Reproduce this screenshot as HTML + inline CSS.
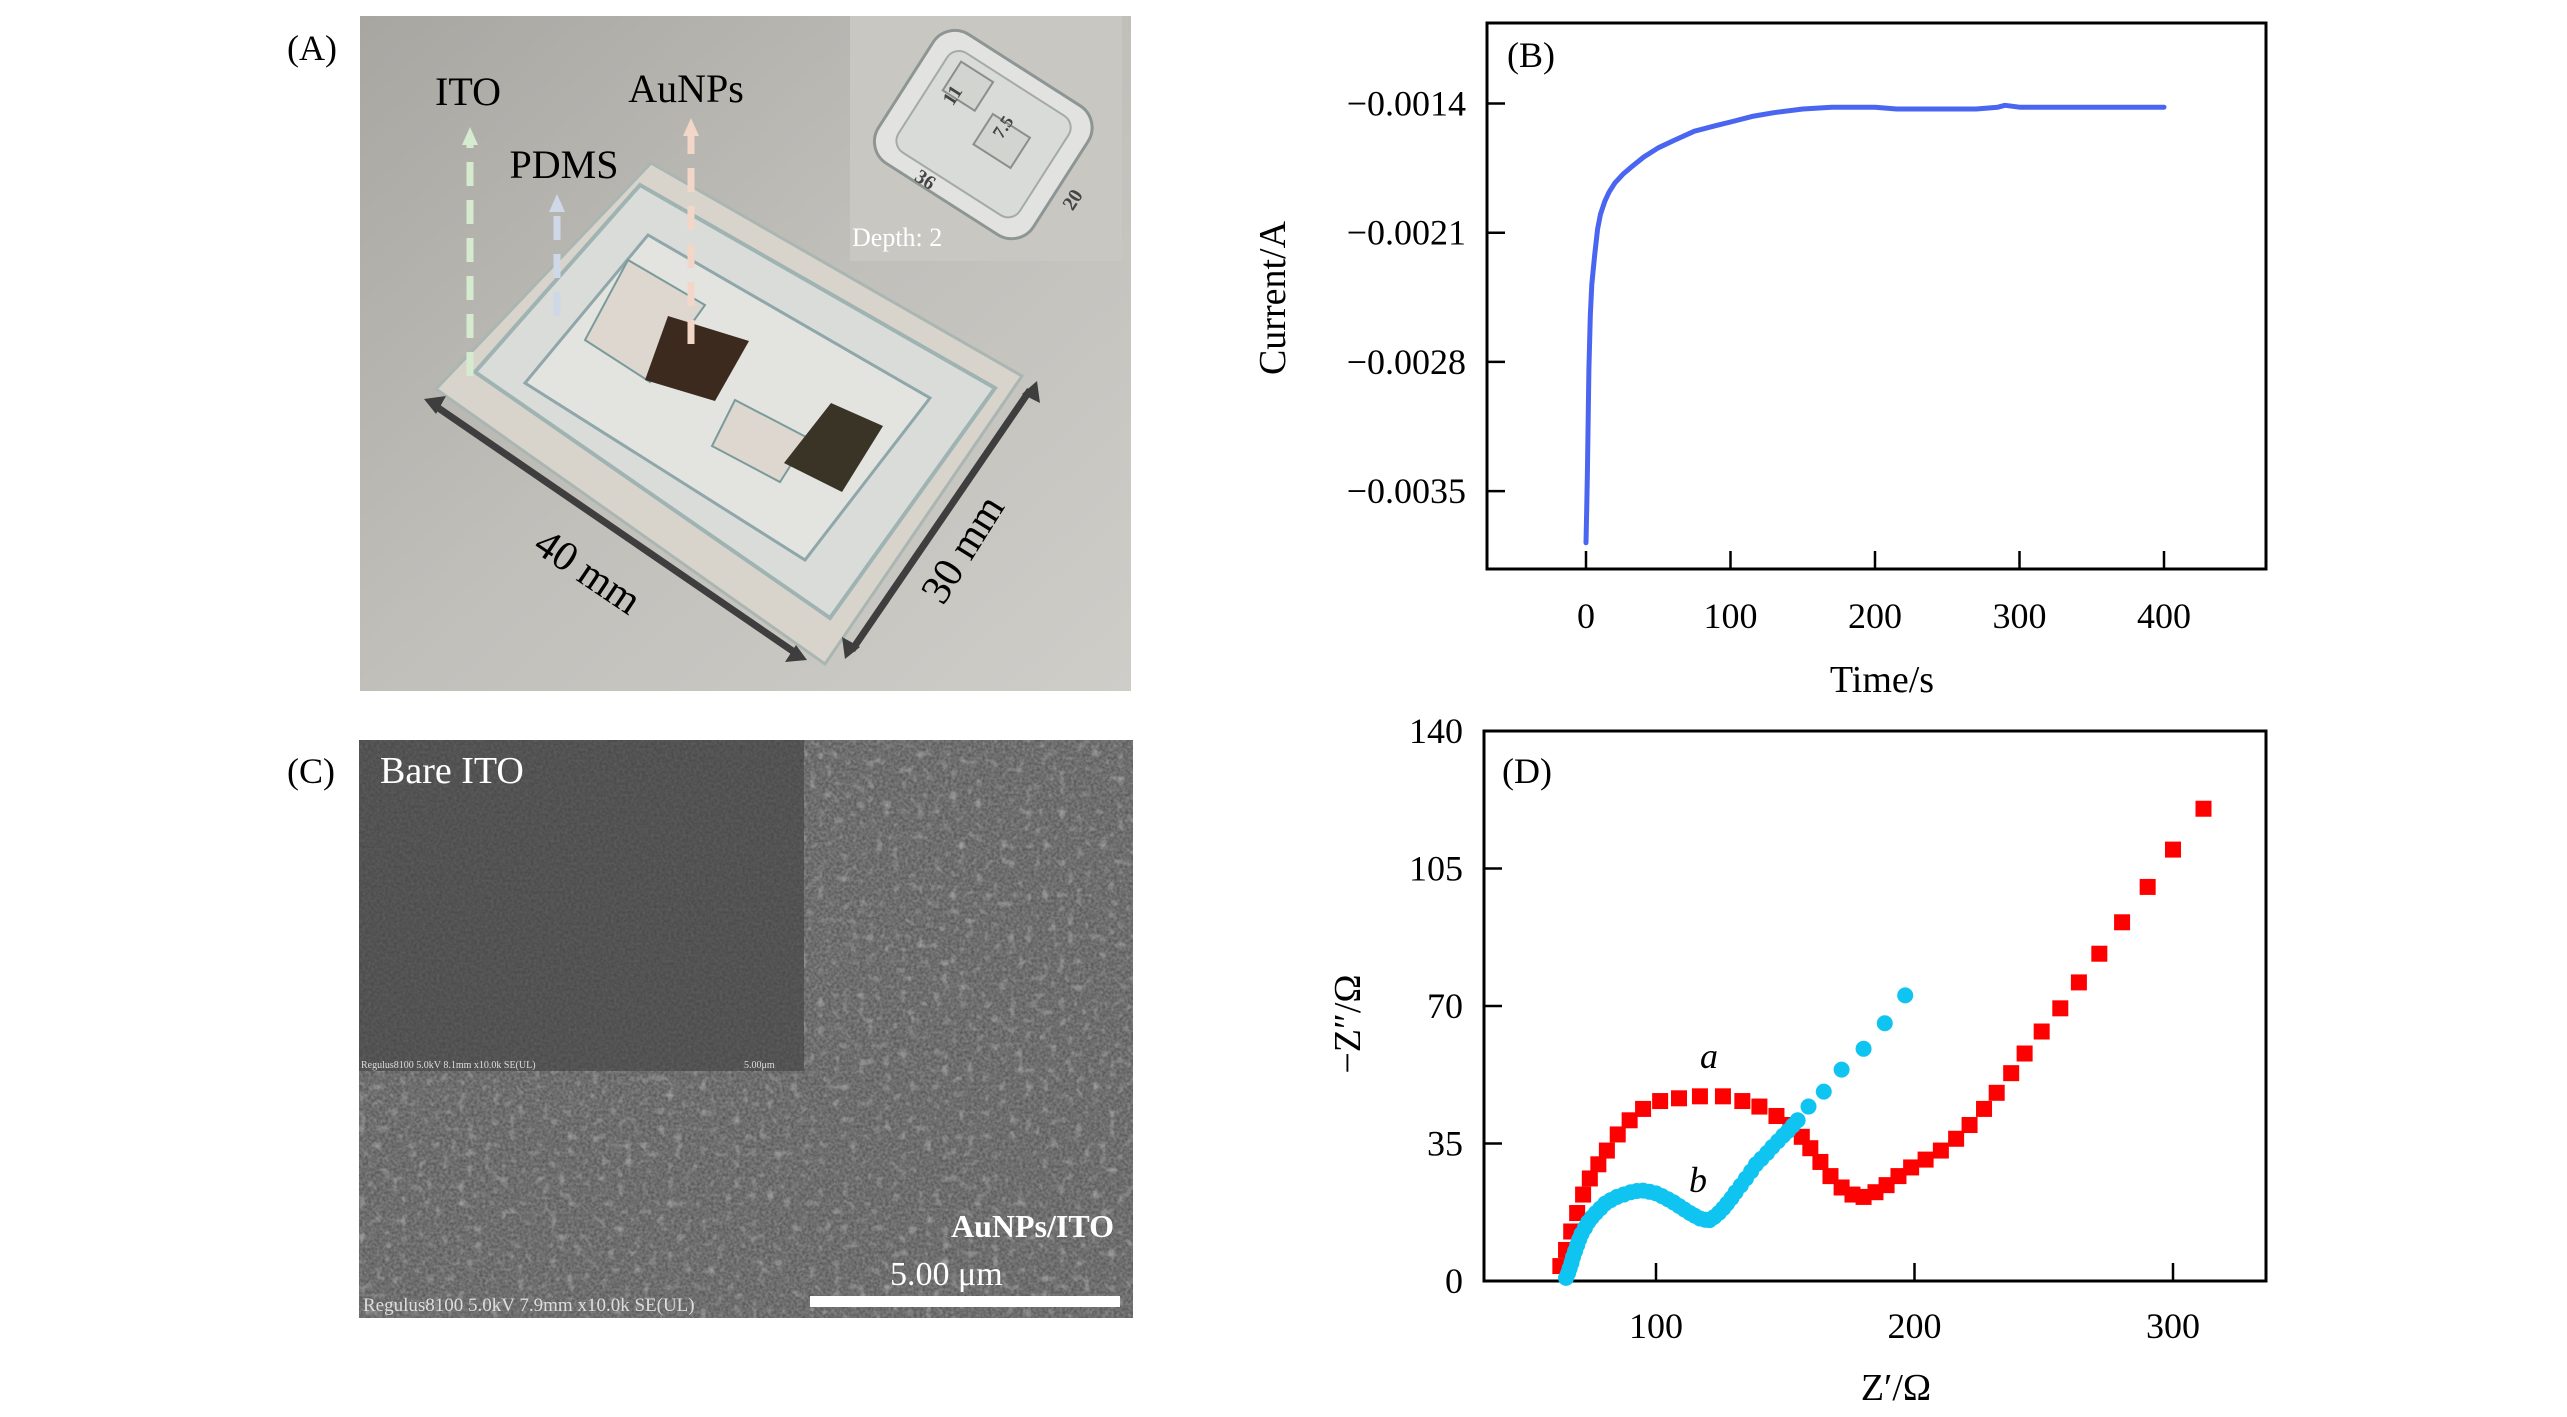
<!DOCTYPE html>
<html><head><meta charset="utf-8"><style>
html,body{margin:0;padding:0;background:#fff}
svg{display:block}
text{font-family:"Liberation Serif",serif}
</style></head><body>
<svg id="fig" width="2567" height="1417" viewBox="0 0 2567 1417" xmlns="http://www.w3.org/2000/svg">
<defs>
<linearGradient id="bgA" x1="0" y1="0" x2="1" y2="1">
<stop offset="0" stop-color="#a8a6a1"/><stop offset="0.5" stop-color="#c1bfba"/><stop offset="1" stop-color="#cfcdc8"/></linearGradient>
<filter id="noise" x="0" y="0" width="100%" height="100%">
<feTurbulence type="fractalNoise" baseFrequency="0.35" numOctaves="2" seed="3"/>
<feColorMatrix type="matrix" values="0 0 0 0 0.5 0 0 0 0 0.5 0 0 0 0 0.5 0 0 0 1.2 -0.2"/></filter>
<filter id="blobs" x="0" y="0" width="100%" height="100%">
<feTurbulence type="fractalNoise" baseFrequency="0.12" numOctaves="1" seed="9"/>
<feColorMatrix type="matrix" values="0 0 0 0 0.8 0 0 0 0 0.8 0 0 0 0 0.8 0 0 0 3 -1.7"/></filter>
</defs>

<g>
<text x="287" y="60" font-size="36">(A)</text>
<rect x="360" y="16" width="771" height="675" fill="url(#bgA)"/>
<polygon points="651,163 1022,376 825,664 436,389" fill="#d8d4cc" stroke="#aab6b2" stroke-width="3"/>
<polygon points="640,185 995,388 830,618 475,372" fill="#d9dcd8" stroke="#9fb3b3" stroke-width="4"/>
<polygon points="648,235 930,398 805,560 525,383" fill="#e3e4e0" stroke="#8fa7aa" stroke-width="3"/>
<polygon points="628,260 705,305 650,382 585,340" fill="#ddd7cf" stroke="#7b9a9c" stroke-width="2"/>
<polygon points="668,316 749,341 715,401 645,380" fill="#3c2a1e"/>
<polygon points="735,400 808,438 780,482 712,446" fill="#ddd7cf" stroke="#7b9a9c" stroke-width="2"/>
<polygon points="831,403 883,426 842,492 784,463" fill="#3a3426"/>
<g stroke-dasharray="24,14" stroke-width="7" fill="none">
<line x1="470" y1="376" x2="470" y2="145" stroke="#d6ead0"/>
<line x1="557" y1="316" x2="557" y2="212" stroke="#cfd8e6"/>
<line x1="691" y1="344" x2="691" y2="136" stroke="#f2d7c8"/>
</g>
<polygon points="462,145 478,145 470,127" fill="#d6ead0"/>
<polygon points="549,212 565,212 557,194" fill="#cfd8e6"/>
<polygon points="683,136 699,136 691,118" fill="#f2d7c8"/>
<text x="468" y="105" font-size="40" text-anchor="middle">ITO</text>
<text x="564" y="178" font-size="40" text-anchor="middle">PDMS</text>
<text x="686" y="102" font-size="40" text-anchor="middle">AuNPs</text>
<g stroke="#3e3e3e" stroke-width="7">
<line x1="434" y1="405" x2="797" y2="654"/><line x1="1030" y1="390" x2="852" y2="650"/>
</g>
<polygon points="424,399 446,396 436,414" fill="#3e3e3e"/>
<polygon points="807,660 785,662 796,645" fill="#3e3e3e"/>
<polygon points="1037,381 1040,403 1022,394" fill="#3e3e3e"/>
<polygon points="845,659 842,637 860,647" fill="#3e3e3e"/>
<text x="587" y="585" font-size="42" text-anchor="middle" transform="rotate(34 587 573)">40 mm</text>
<text x="964" y="562" font-size="42" text-anchor="middle" transform="rotate(-58 964 550)">30 mm</text>
<g>
<rect x="850" y="16" width="272" height="245" fill="#c9c7c2"/>
<rect x="891" y="58" width="184" height="153" rx="26" fill="#e2e3e0" stroke="#8d9694" stroke-width="3" transform="rotate(32.6 983 135)"/>
<rect x="911" y="75" width="144" height="118" rx="14" fill="#d9dbd8" stroke="#a3aaa8" stroke-width="2" transform="rotate(32.6 983 135)"/>
<rect x="925" y="85" width="38" height="34" fill="#d2d4d0" stroke="#8a8f8c" stroke-width="2" transform="rotate(32.6 983 135)"/>
<rect x="980" y="112" width="44" height="36" fill="#d2d4d0" stroke="#8a8f8c" stroke-width="2" transform="rotate(32.6 983 135)"/>
<text x="952" y="102" font-size="20" font-weight="bold" fill="#444" transform="rotate(-57 952 95)" text-anchor="middle">11</text>
<text x="1003" y="133" font-size="18" font-weight="bold" fill="#444" transform="rotate(-57 1003 127)" text-anchor="middle">7.5</text>
<text x="925" y="186" font-size="20" font-weight="bold" fill="#444" transform="rotate(33 925 180)" text-anchor="middle">36</text>
<text x="1073" y="206" font-size="20" font-weight="bold" fill="#444" transform="rotate(-57 1073 200)" text-anchor="middle">20</text>
<text x="852" y="246" font-size="26" fill="#fff">Depth: 2</text>
</g>
</g>

<g>
<text x="287" y="783" font-size="36">(C)</text>
<rect x="359" y="740" width="774" height="578" fill="#585858"/>
<rect x="359" y="740" width="774" height="578" filter="url(#noise)" opacity="0.55"/>
<rect x="359" y="740" width="774" height="578" filter="url(#blobs)" opacity="0.45"/>
<rect x="359" y="740" width="445" height="331" fill="#4a4a4a"/>
<rect x="359" y="740" width="445" height="331" filter="url(#noise)" opacity="0.2"/>
<text x="380" y="783" font-size="38" fill="#fff">Bare ITO</text>
<text x="361" y="1068" font-size="10" fill="#ddd" font-family="Liberation Sans">Regulus8100 5.0kV 8.1mm x10.0k SE(UL)</text>
<text x="744" y="1068" font-size="10" fill="#ddd" font-family="Liberation Sans">5.00μm</text>
<text x="1114" y="1237" font-size="32" font-weight="bold" fill="#fff" text-anchor="end">AuNPs/ITO</text>
<text x="890" y="1285" font-size="34" fill="#fff">5.00 μm</text>
<rect x="810" y="1296" width="310" height="11" fill="#fff"/>
<text x="363" y="1311" font-size="19" fill="#ddd" font-family="Liberation Sans">Regulus8100 5.0kV 7.9mm x10.0k SE(UL)</text>
</g>

<g id="chartB"></g>
<g id="chartD"></g>
</svg>
<script>
// ---- Chart B data ----
const bTime = [0,0.5,1,2,3,4,6,8,10,13,16,20,26,32,40,50,61,75,90,100,115,130,150,170,200,215,240,270,285,290,300,350,400];
const bCurrent = [-0.00378,-0.0036,-0.0034,-0.00284,-0.00255,-0.00238,-0.00222,-0.00208,-0.00200,-0.00193,-0.00188,-0.00183,-0.00178,-0.00174,-0.00169,-0.00164,-0.00160,-0.00155,-0.00152,-0.00150,-0.00147,-0.00145,-0.00143,-0.00142,-0.00142,-0.00143,-0.00143,-0.00143,-0.00142,-0.00141,-0.00142,-0.00142,-0.00142];
const bXTicks = [0,100,200,300,400];
const bYTicks = [-0.0014,-0.0021,-0.0028,-0.0035];
const bYLabels = ["\u22120.0014","\u22120.0021","\u22120.0028","\u22120.0035"];
// ---- Chart D data ----
const dRedX = [63,65.2,67.2,69.5,71.8,74.4,77.7,81,85.2,89.8,95,101.6,108.9,117,125.9,133.4,140,146.6,152,156.4,159.7,163.6,167.5,171.8,176,180.3,184.9,189.2,193.8,198.7,204.3,210.2,216.1,221.3,226.9,231.8,237.4,242.6,249.2,256.4,263.6,271.5,280.3,290.2,300,311.8];
const dRedY = [3.8,7.9,12.6,17.3,22,26.1,29.7,33.2,37.3,40.9,43.8,45.8,46.5,47,47,45.8,44.4,42,39.7,36.7,33.8,30.3,26.7,23.8,22,21.4,22.6,24.4,26.7,28.9,30.9,33.2,36.2,39.7,43.8,47.9,52.9,57.9,63.5,69.4,76,83.3,91.3,100.3,109.8,120.2];
const dBlueX = [65.2,66,66.6,67.3,67.9,68.7,69.5,70.3,71.2,72.5,73.8,75.2,76.7,78.5,80.3,82.5,84.9,87.5,90.2,92.6,95,97.5,100,102.3,104.6,106.8,108.9,111,113.1,115,117,119,120.7,122.5,124.3,126,127.5,129.2,130.8,132.8,134.8,136.8,138.7,140.8,143,145,147.2,149.2,151.1,153,154.8,159,164.9,171.8,180.3,188.5,196.4];
const dBlueY = [0.8,2,3.2,4.6,6.1,7.6,9.1,10.6,12,13.5,15,16.2,17.3,18.5,19.7,20.6,21.4,22,22.6,22.9,23,22.7,22.3,21.6,20.8,20,19.1,18.2,17.3,16.6,15.9,15.6,15.5,16.3,17.3,18.5,19.7,21.1,22.6,24.3,26.1,27.9,29.7,31.1,32.6,34.1,35.6,37,38.2,39.6,40.9,44.4,48.2,53.8,59.1,65.6,72.7];
const dXTicks = [100,200,300];
const dYTicks = [0,35,70,105,140];

const NS = "http://www.w3.org/2000/svg";
function mk(parent, tag, attrs, txt){const e=document.createElementNS(NS,tag);for(const k in attrs)e.setAttribute(k,attrs[k]);if(txt!==undefined)e.textContent=txt;parent.appendChild(e);return e;}

(function(){
const g=document.getElementById('chartB');
const L=1487,R=2266,T=23,B=569;
const xB=t=>1586+t*1.445;
const yB=v=>103.5+(-0.0014-v)/0.0007*129.2;
const frame=mk(g,'rect',{x:L,y:T,width:R-L,height:B-T,fill:'none',stroke:'#000','stroke-width':3});


bXTicks.forEach(t=>{
 const tk=mk(g,'line',{x1:xB(t),x2:xB(t),y1:B,y2:B-18,stroke:'#000','stroke-width':2.5});
 
 
 const lb=mk(g,'text',{x:xB(t),y:628,'font-size':36,'text-anchor':'middle'},String(t));
 
 
});
bYTicks.forEach((v,i)=>{
 const tk=mk(g,'line',{x1:L,x2:L+18,y1:yB(v),y2:yB(v),stroke:'#000','stroke-width':2.5});
 
 
 const lb=mk(g,'text',{x:1466,y:yB(v)+12,'font-size':36,'text-anchor':'end'},bYLabels[i]);
 
 
});
const pts=bTime.map((t,i)=>xB(t).toFixed(1)+','+yB(bCurrent[i]).toFixed(1)).join(' ');
const line=mk(g,'polyline',{points:pts,fill:'none',stroke:'#4a66f0','stroke-width':5,'stroke-linejoin':'round','stroke-linecap':'round'});


const xt=mk(g,'text',{x:1882,y:692,'font-size':38,'text-anchor':'middle'},'Time/s');


const yt=mk(g,'text',{x:1285,y:298,'font-size':38,'text-anchor':'middle',transform:'rotate(-90 1285 298)'},'Current/A');


const pl=mk(g,'text',{x:1507,y:67,'font-size':36},'(B)');


})();

(function(){
const g=document.getElementById('chartD');
const L=1484,R=2266,T=731,B=1281;
const xD=v=>1656+(v-100)*2.585;
const yD=v=>1281-v*3.929;
const frame=mk(g,'rect',{x:L,y:T,width:R-L,height:B-T,fill:'none',stroke:'#000','stroke-width':3});


dXTicks.forEach(t=>{
 const tk=mk(g,'line',{x1:xD(t),x2:xD(t),y1:B,y2:B-18,stroke:'#000','stroke-width':2.5});
 
 
 const lb=mk(g,'text',{x:xD(t),y:1338,'font-size':36,'text-anchor':'middle'},String(t));
 
 
});
dYTicks.forEach(v=>{
 if(v>0&&v<140){
 const tk=mk(g,'line',{x1:L,x2:L+18,y1:yD(v),y2:yD(v),stroke:'#000','stroke-width':2.5});
 
 }
 const lb=mk(g,'text',{x:1463,y:yD(v)+12,'font-size':36,'text-anchor':'end'},String(v));
 
 
});
dRedX.forEach((x,i)=>{
 const s=mk(g,'rect',{x:xD(x)-8,y:yD(dRedY[i])-8,width:16,height:16,fill:'#ff0000'});
 
 
});
dBlueX.forEach((x,i)=>{
 const c=mk(g,'circle',{cx:xD(x),cy:yD(dBlueY[i]),r:8,fill:'#10c4f2'});
 
 
});
const la=mk(g,'text',{x:1709,y:1068,'font-size':36,'font-style':'italic','text-anchor':'middle'},'a');


const lb2=mk(g,'text',{x:1698,y:1192,'font-size':36,'font-style':'italic','text-anchor':'middle'},'b');


const xt=mk(g,'text',{x:1896,y:1400,'font-size':38,'text-anchor':'middle'},'Z\u2032/\u03A9');


const yt=mk(g,'text',{x:1360,y:1024,'font-size':38,'text-anchor':'middle',transform:'rotate(-90 1360 1024)'},'\u2212Z\u2033/\u03A9');


const pl=mk(g,'text',{x:1502,y:783,'font-size':36},'(D)');


})();
</script>
</body></html>
